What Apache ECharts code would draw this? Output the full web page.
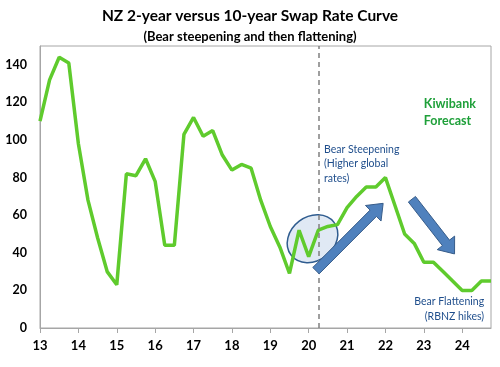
<!DOCTYPE html>
<html><head><meta charset="utf-8">
<script src="https://cdn.jsdelivr.net/npm/echarts@6/dist/echarts.min.js"></script>
<style>html,body{margin:0;padding:0;background:#fff}#c{width:500px;height:367px}</style>
</head><body><div id="c"></div>
<script>
// Quarterly time (year, 2-digit) and 2y-10y swap spread (bps)
const quarters = [13,13.25,13.5,13.75,14,14.25,14.5,14.75,15,15.25,15.5,15.75,16,16.25,16.5,16.75,17,17.25,17.5,17.75,18,18.25,18.5,18.75,19,19.25,19.5,19.75,20,20.25,20.5,20.75,21,21.25,21.5,21.75,22,22.25,22.5,22.75,23,23.25,23.5,23.75,24,24.25,24.5,24.75];
const spread = [110,132,144,141,98,68,48,30,23,82,81,90,78,44,44,103,112,102,105,92,84,87,85,68,54,43,29,52,38,52,54,55,64,70,75,75,80,65,50,45,35,35,30,25,20,20,25,25];
const yearTicks = [13,14,15,16,17,18,19,20,21,22,23,24];
const forecastStart = 20.25;

const titleText = 'NZ 2-year versus 10-year Swap Rate Curve';
const subtitleText = '(Bear steepening and then flattening)';
const forecastLabel = 'Kiwibank\nForecast';
const steepLabel = 'Bear Steepening\n(Higher global\nrates)';
const flatLabel = 'Bear Flattening\n(RBNZ hikes)';

// annotation anchors in data coordinates [year, bps]
const steepArrow = [[20.19, 30.5], [21.94, 66.3]];
const flatArrow = [[22.69, 68.5], [23.8, 39.4]];
const ellipseCenter = [20.1, 47.5];

const FONT = 'Lato, "Open Sans", sans-serif';
const chart = echarts.init(document.getElementById('c'), null, {renderer: 'canvas'});

chart.setOption({
  animation: false,
  backgroundColor: '#fff',
  title: [
    {text: titleText, left: 'center', top: 3, textStyle: {fontFamily: FONT, fontWeight: 'bold', fontSize: 15.5, color: '#000'}},
    {text: subtitleText, left: 'center', top: 25, textStyle: {fontFamily: FONT, fontWeight: 'bold', fontSize: 13, color: '#000'}}
  ],
  grid: {left: 40, right: 9, top: 46, bottom: 39, show: true, borderColor: '#A6A6A6', borderWidth: 1},
  xAxis: {
    type: 'value', min: 13, max: 24.75, interval: 1,
    axisLine: {lineStyle: {color: '#A6A6A6'}},
    axisTick: {show: true, length: 5, lineStyle: {color: '#A6A6A6'}},
    splitLine: {show: false},
    axisLabel: {
      margin: 11, fontFamily: FONT, fontWeight: 'bold', fontSize: 13, color: '#000',
      showMaxLabel: false,
      formatter: v => yearTicks.indexOf(v) >= 0 ? String(v) : ''
    }
  },
  yAxis: {
    type: 'value', min: 0, max: 150, interval: 20,
    axisLine: {show: true, lineStyle: {color: '#A6A6A6'}},
    axisTick: {show: false},
    splitLine: {show: false},
    axisLabel: {
      margin: 13, fontFamily: FONT, fontWeight: 'bold', fontSize: 12.5, color: '#000',
      showMaxLabel: false,
      formatter: v => (v % 20 === 0 ? String(v) : '')
    }
  },
  series: [{
    type: 'line',
    data: quarters.map((q, i) => [q, spread[i]]),
    showSymbol: false, symbol: 'none',
    lineStyle: {color: '#5FCB2D', width: 3.5},
    z: 3,
    markLine: {
      silent: true, symbol: 'none', label: {show: false},
      lineStyle: {color: '#808080', type: [5, 4], width: 1.5},
      data: [{xAxis: forecastStart}]
    }
  }]
});

function px(p) { return chart.convertToPixel({gridIndex: 0}, p); }
function arrowPoints(a, b, w, h, L) {
  const T = px(a), P = px(b);
  const dx = P[0] - T[0], dy = P[1] - T[1];
  const len = Math.hypot(dx, dy);
  const ux = dx / len, uy = dy / len, nx = -uy, ny = ux;
  const B = [P[0] - ux * L, P[1] - uy * L];
  return [
    [T[0] + nx * w, T[1] + ny * w], [B[0] + nx * w, B[1] + ny * w], [B[0] + nx * h, B[1] + ny * h],
    P, [B[0] - nx * h, B[1] - ny * h], [B[0] - nx * w, B[1] - ny * w], [T[0] - nx * w, T[1] - ny * w]
  ];
}
const ec = px(ellipseCenter);
const fAnchor = px([23.0, 124]);
const sAnchor = px([20.4, 99]);
const flAnchor = px([24.57, 17.8]);

chart.setOption({
  graphic: [
    {type: 'ellipse', x: ec[0], y: ec[1], rotation: 0.65, z: 1,
     shape: {cx: 0, cy: 0, rx: 27, ry: 22},
     style: {fill: 'rgba(214,226,240,0.75)', stroke: '#2F5C8F', lineWidth: 1.5}},
    {type: 'polygon', z: 5, shape: {points: arrowPoints(steepArrow[0], steepArrow[1], 4.5, 11, 14)},
     style: {fill: '#4F81BD', stroke: '#385D8A', lineWidth: 1}},
    {type: 'polygon', z: 5, shape: {points: arrowPoints(flatArrow[0], flatArrow[1], 4.5, 11, 14)},
     style: {fill: '#4F81BD', stroke: '#385D8A', lineWidth: 1}},
    {type: 'text', x: fAnchor[0], y: fAnchor[1], z: 6,
     style: {text: forecastLabel, font: 'bold 12.5px ' + FONT, fill: '#1FA03A', lineHeight: 17.5, textAlign: 'left', textVerticalAlign: 'top'}},
    {type: 'text', x: sAnchor[0], y: sAnchor[1], z: 6,
     style: {text: steepLabel, font: '10.5px ' + FONT, fill: '#1F4E8C', lineHeight: 14.5, textAlign: 'left', textVerticalAlign: 'top'}},
    {type: 'text', x: flAnchor[0], y: flAnchor[1], z: 6,
     style: {text: flatLabel, font: '10.5px ' + FONT, fill: '#1F4E8C', lineHeight: 15, textAlign: 'right', textVerticalAlign: 'top'}}
  ]
});
</script></body></html>
